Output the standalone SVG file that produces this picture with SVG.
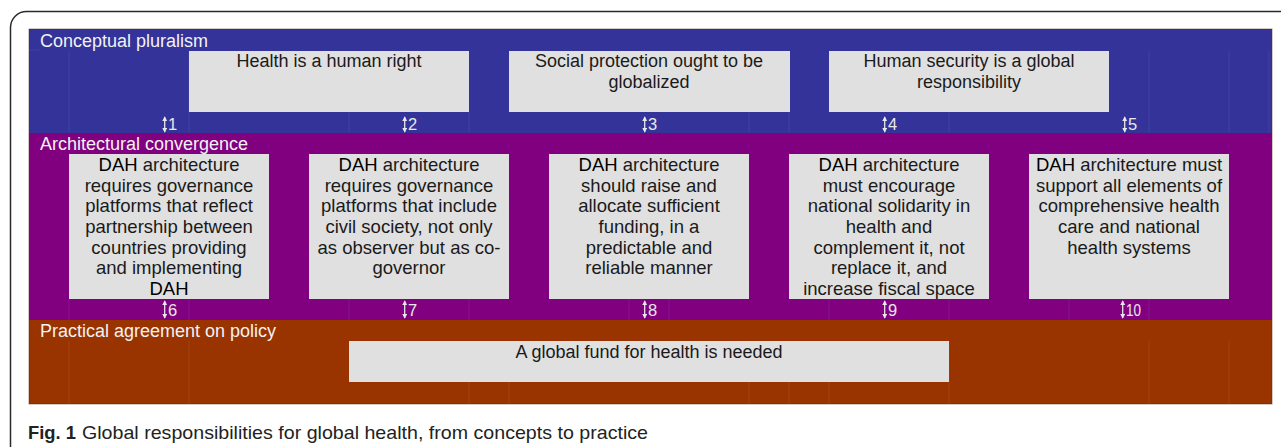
<svg xmlns="http://www.w3.org/2000/svg" width="1281" height="447" viewBox="0 0 1281 447">
<defs>
<marker id="ah" viewBox="0 0 6 6" refX="5" refY="3" markerWidth="5" markerHeight="5" orient="auto-start-reverse" markerUnits="userSpaceOnUse">
<path d="M0 0L6 3L0 6Z" fill="#e8e8e8"/>
</marker>
</defs>
<style>
.band-label{font-family:"Liberation Sans",Arial,sans-serif;font-size:18px;fill:#f2f2f2}
.box{fill:#e0e0e0}
.bt{font-family:"Liberation Sans",Arial,sans-serif;font-size:18.5px;fill:#1a1a1a;text-anchor:middle}
.tt{font-family:"Liberation Sans",Arial,sans-serif;font-size:18px;fill:#1a1a1a;text-anchor:middle}
.dah{fill:#000}
.num{font-family:"Liberation Sans",Arial,sans-serif;font-size:16.5px;fill:#e8e8e8}
.link{stroke:#e8e8e8;stroke-width:1.3;fill:none;marker-start:url(#ah);marker-end:url(#ah)}
.grid{stroke:#ffffff;stroke-opacity:0.07;stroke-width:1}
.cap{font-family:"Liberation Sans",Arial,sans-serif;font-size:19px;fill:#222}
</style>
<rect x="0" y="0" width="1281" height="447" fill="#ffffff"/>
<rect x="10.5" y="11.5" width="1320" height="480" rx="16" fill="none" stroke="#2a2a2a" stroke-width="1.5"/>

<g id="band-conceptual">
<rect x="29" y="29" width="1243" height="104" fill="#333399"/>
<text class="band-label" x="40" y="47">Conceptual pluralism</text>
</g>
<g id="band-architectural">
<rect x="29" y="133" width="1243" height="187" fill="#800080"/>
<text class="band-label" x="40" y="150">Architectural convergence</text>
</g>
<g id="band-practical">
<rect x="29" y="320" width="1243" height="84" fill="#993300"/>
<text class="band-label" x="40" y="337">Practical agreement on policy</text>
</g>
<rect x="29" y="29" width="1243" height="375" fill="none" stroke="#5a2a10" stroke-opacity="0.5" stroke-width="1"/>

<g id="faint-grid">
<path class="grid" d="M69 51V133M189 51V133M349 112V133M469 112V133M749 112V133M789 112V133M949 112V133M1149 51V133M1229 51V133M1269 51V133M29 50H40"/>
<path class="grid" d="M69 299V320M189 299V320M349 299V320M469 299V320M629 299V320M669 299V320M829 299V320M949 299V320M1069 299V320M1149 299V320"/>
<path class="grid" d="M69 341V404M189 341V404M469 382V404M509 382V404M749 382V404M789 382V404M829 382V404M949 341V404M1149 341V404M1229 341V404"/>
</g>

<g id="node-health-right">
<rect class="box" x="189" y="51" width="280" height="61"/>
<text class="tt" x="329" y="67">Health is a human right</text>
</g>
<g id="node-social-protection">
<rect class="box" x="509" y="51" width="281" height="61"/>
<text class="tt" x="649" y="67">Social protection ought to be</text>
<text class="tt" x="649" y="88">globalized</text>
</g>
<g id="node-human-security">
<rect class="box" x="829" y="51" width="280" height="61"/>
<text class="tt" x="969" y="67">Human security is a global</text>
<text class="tt" x="969" y="88">responsibility</text>
</g>

<g id="node-dah-1">
<rect class="box" x="69" y="154" width="200" height="145"/>
<text class="bt" x="169" y="171"><tspan class="dah">DAH</tspan> architecture</text>
<text class="bt" x="169" y="192">requires governance</text>
<text class="bt" x="169" y="212">platforms that reflect</text>
<text class="bt" x="169" y="233">partnership between</text>
<text class="bt" x="169" y="254">countries providing</text>
<text class="bt" x="169" y="274">and implementing</text>
<text class="bt" x="169" y="295"><tspan class="dah">DAH</tspan></text>
</g>
<g id="node-dah-2">
<rect class="box" x="309" y="154" width="200" height="145"/>
<text class="bt" x="409" y="171"><tspan class="dah">DAH</tspan> architecture</text>
<text class="bt" x="409" y="192">requires governance</text>
<text class="bt" x="409" y="212">platforms that include</text>
<text class="bt" x="409" y="233">civil society, not only</text>
<text class="bt" x="409" y="254">as observer but as co-</text>
<text class="bt" x="409" y="274">governor</text>
</g>
<g id="node-dah-3">
<rect class="box" x="549" y="154" width="200" height="145"/>
<text class="bt" x="649" y="171"><tspan class="dah">DAH</tspan> architecture</text>
<text class="bt" x="649" y="192">should raise and</text>
<text class="bt" x="649" y="212">allocate sufficient</text>
<text class="bt" x="649" y="233">funding, in a</text>
<text class="bt" x="649" y="254">predictable and</text>
<text class="bt" x="649" y="274">reliable manner</text>
</g>
<g id="node-dah-4">
<rect class="box" x="789" y="154" width="200" height="145"/>
<text class="bt" x="889" y="171"><tspan class="dah">DAH</tspan> architecture</text>
<text class="bt" x="889" y="192">must encourage</text>
<text class="bt" x="889" y="212">national solidarity in</text>
<text class="bt" x="889" y="233">health and</text>
<text class="bt" x="889" y="254">complement it, not</text>
<text class="bt" x="889" y="274">replace it, and</text>
<text class="bt" x="889" y="295">increase fiscal space</text>
</g>
<g id="node-dah-5">
<rect class="box" x="1029" y="154" width="200" height="145"/>
<text class="bt" x="1129" y="171"><tspan class="dah">DAH</tspan> architecture must</text>
<text class="bt" x="1129" y="192">support all elements of</text>
<text class="bt" x="1129" y="212">comprehensive health</text>
<text class="bt" x="1129" y="233">care and national</text>
<text class="bt" x="1129" y="254">health systems</text>
</g>

<g id="node-global-fund">
<rect class="box" x="349" y="341" width="600" height="41"/>
<text class="tt" x="649" y="358">A global fund for health is needed</text>
</g>

<g id="connectors">
<path class="link" d="M164.7 117V132"/>
<path class="link" d="M404.7 117V132"/>
<path class="link" d="M644.7 117V132"/>
<path class="link" d="M884.7 117V132"/>
<path class="link" d="M1124.7 117V132"/>
<path class="link" d="M164.7 301V318"/>
<path class="link" d="M404.7 301V318"/>
<path class="link" d="M644.7 301V318"/>
<path class="link" d="M884.7 301V318"/>
<path class="link" d="M1122.7 301V318"/>
<text class="num" x="168" y="130">1</text>
<text class="num" x="408" y="130">2</text>
<text class="num" x="648" y="130">3</text>
<text class="num" x="888" y="130">4</text>
<text class="num" x="1128" y="130">5</text>
<text class="num" x="168" y="316">6</text>
<text class="num" x="408" y="316">7</text>
<text class="num" x="648" y="316">8</text>
<text class="num" x="888" y="316">9</text>
<text class="num" x="1126" y="316" textLength="15" lengthAdjust="spacingAndGlyphs">10</text>
</g>

<g id="caption">
<text class="cap" x="28" y="439" font-weight="bold" textLength="48" lengthAdjust="spacingAndGlyphs">Fig. 1</text>
<text class="cap" x="82" y="439" textLength="566" lengthAdjust="spacingAndGlyphs">Global responsibilities for global health, from concepts to practice</text>
</g>
</svg>
